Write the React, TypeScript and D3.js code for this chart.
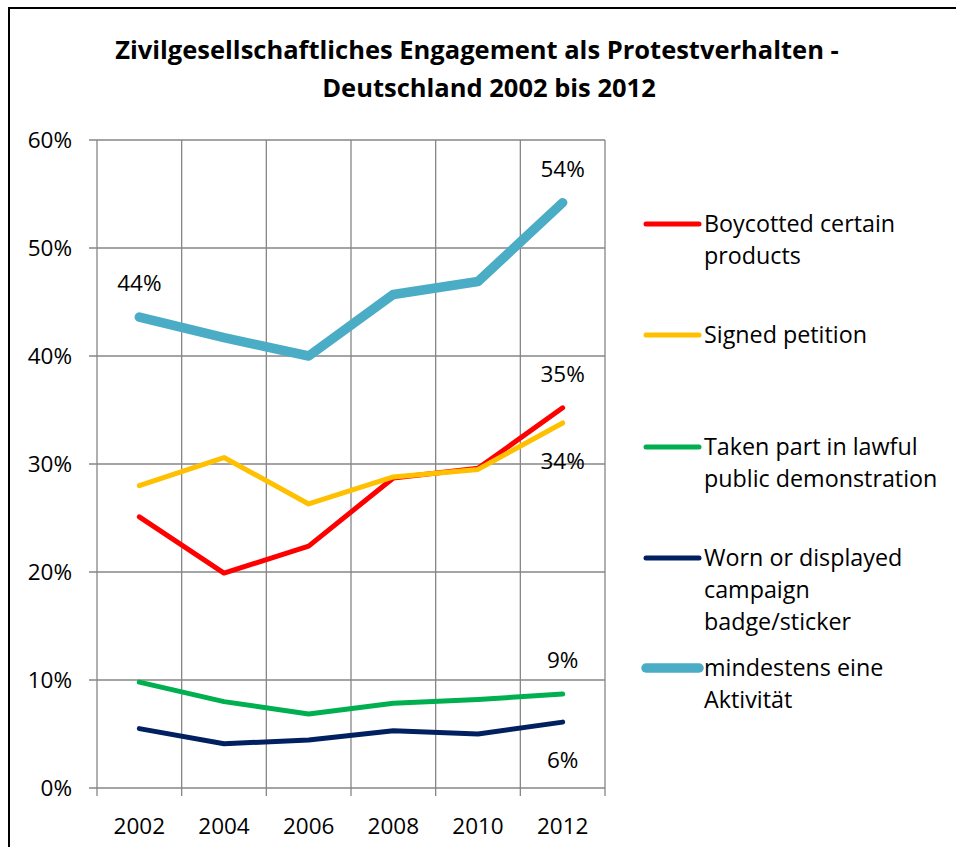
import React, { useEffect, useRef } from "react";
import * as d3 from "d3";

const years = ["2002", "2004", "2006", "2008", "2010", "2012"];
const boycott = [25.1, 19.9, 22.4, 28.7, 29.6, 35.2];
const petition = [28.0, 30.6, 26.3, 28.8, 29.5, 33.8];
const demonstration = [9.8, 8.0, 6.85, 7.85, 8.2, 8.7];
const badge = [5.5, 4.1, 4.45, 5.3, 5.0, 6.1];
const atLeastOne = [43.6, 41.7, 40.0, 45.7, 46.9, 54.2];
const yTicks = [0, 10, 20, 30, 40, 50, 60];
const titleLines = [
  "Zivilgesellschaftliches Engagement als Protestverhalten -",
  "Deutschland 2002 bis 2012",
];

const series = [
  { name: ["Boycotted certain", "products"], values: boycott, color: "#ff0000", width: 5, labels: [{ i: 5, pos: "above" }] },
  { name: ["Signed petition"], values: petition, color: "#ffc000", width: 5, labels: [{ i: 5, pos: "below" }] },
  { name: ["Taken part in lawful", "public demonstration"], values: demonstration, color: "#00b050", width: 5, labels: [{ i: 5, pos: "above" }] },
  { name: ["Worn or displayed", "campaign", "badge/sticker"], values: badge, color: "#002060", width: 5, labels: [{ i: 5, pos: "below" }] },
  { name: ["mindestens eine", "Aktivität"], values: atLeastOne, color: "#4bacc6", width: 9.5, labels: [{ i: 0, pos: "above" }, { i: 5, pos: "above" }] },
];

const FONT = "'Open Sans', Lato, sans-serif";

export default function App() {
  const svgRef = useRef<SVGSVGElement>(null);

  useEffect(() => {
    const svg = d3.select(svgRef.current);
    svg.selectAll("*").remove();

    const left = 97, right = 605, top = 140, bottom = 788;
    const grid = "#868686";

    const x = d3.scaleBand().domain(years).range([left, right]);
    const y = d3.scaleLinear().domain([0, 60]).range([bottom, top]);

    // chart frame (only left and top visible in crop)
    svg.append("path").attr("d", "M9,847 V8 H956").attr("fill", "none").attr("stroke", "#000").attr("stroke-width", 2);

    // title
    svg.append("g").selectAll("text").data(titleLines).enter().append("text")
      .attr("x", (d, i) => (i === 0 ? 477 : 489))
      .attr("y", (d, i) => 59 + i * 38)
      .attr("text-anchor", "middle")
      .attr("font-family", FONT).attr("font-weight", "bold").attr("font-size", 25.5)
      .text((d) => d);

    // horizontal gridlines + y ticks
    svg.append("g").selectAll("line").data(yTicks).enter().append("line")
      .attr("x1", left - 8).attr("x2", right)
      .attr("y1", (d) => y(d)).attr("y2", (d) => y(d))
      .attr("stroke", grid).attr("stroke-width", 1.3);

    // vertical gridlines at category boundaries, extending as ticks
    const bounds = years.map((d) => x(d) as number).concat([right]);
    svg.append("g").selectAll("line").data(bounds).enter().append("line")
      .attr("x1", (d) => d).attr("x2", (d) => d)
      .attr("y1", top).attr("y2", bottom + 8)
      .attr("stroke", grid).attr("stroke-width", 1.3);

    // y labels
    svg.append("g").selectAll("text").data(yTicks).enter().append("text")
      .attr("x", 72).attr("y", (d) => y(d) + 8)
      .attr("text-anchor", "end")
      .attr("font-family", FONT).attr("font-size", 22.5)
      .text((d) => d + "%");

    // x labels
    svg.append("g").selectAll("text").data(years).enter().append("text")
      .attr("x", (d) => (x(d) as number) + x.bandwidth() / 2).attr("y", 834)
      .attr("text-anchor", "middle")
      .attr("font-family", FONT).attr("font-size", 22.5)
      .text((d) => d);

    const line = d3.line<number>()
      .x((d, i) => (x(years[i]) as number) + x.bandwidth() / 2)
      .y((d) => y(d));

    series.forEach((s) => {
      svg.append("path").datum(s.values).attr("d", line)
        .attr("fill", "none").attr("stroke", s.color).attr("stroke-width", s.width)
        .attr("stroke-linejoin", "round").attr("stroke-linecap", "round");
    });

    // data labels
    series.forEach((s) => {
      s.labels.forEach((l) => {
        const v = s.values[l.i];
        svg.append("text")
          .attr("x", (x(years[l.i]) as number) + x.bandwidth() / 2)
          .attr("y", y(v) + (l.pos === "above" ? -26 : 46))
          .attr("text-anchor", "middle")
          .attr("font-family", FONT).attr("font-size", 22.5)
          .text(Math.round(v) + "%");
      });
    });

    // legend
    const legendY = [224, 335, 447, 558, 668];
    const lg = svg.append("g").selectAll("g").data(series).enter().append("g")
      .attr("transform", (d, i) => `translate(0,${legendY[i]})`);
    lg.append("line").attr("x1", 646).attr("x2", 699).attr("y1", 0).attr("y2", 0)
      .attr("stroke", (d) => d.color).attr("stroke-width", (d) => d.width)
      .attr("stroke-linecap", "round");
    lg.each(function (d) {
      d3.select(this).selectAll("text").data(d.name).enter().append("text")
        .attr("x", 704).attr("y", (t, j) => 8 + j * 32)
        .attr("font-family", FONT).attr("font-size", 23.3)
        .text((t) => t);
    });
  }, []);

  return (
    <svg
      ref={svgRef}
      width={956}
      height={847}
      style={{ position: "absolute", left: 0, top: 0, background: "#fff" }}
    />
  );
}
